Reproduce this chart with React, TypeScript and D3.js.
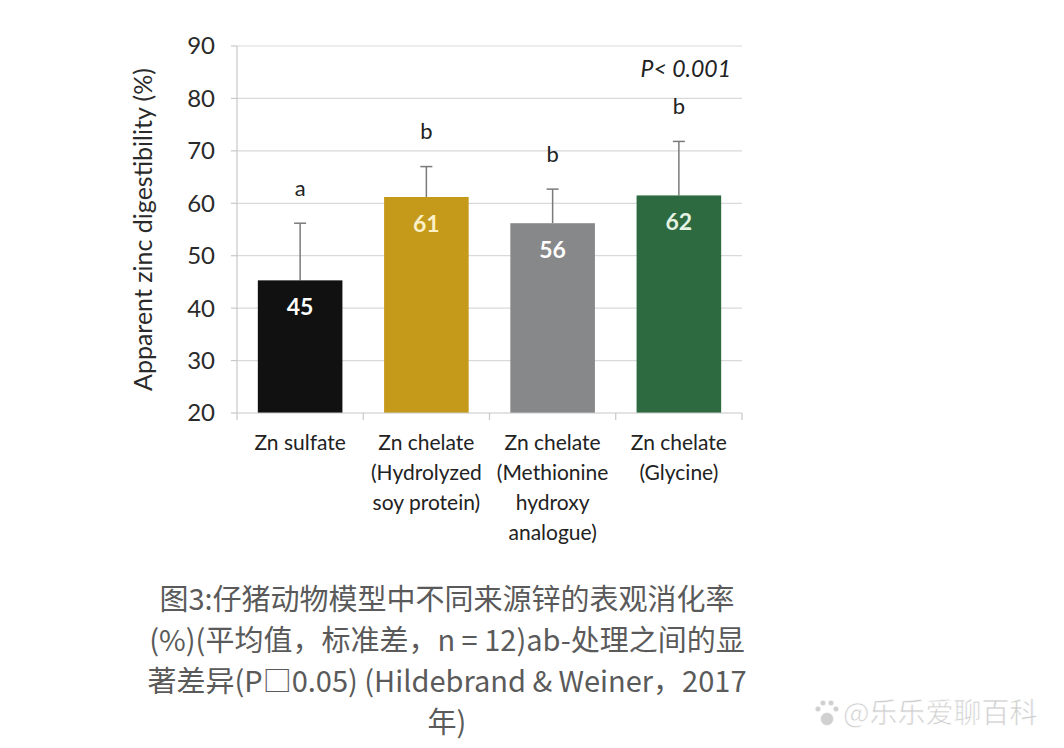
import { useMemo } from 'react';
import * as d3 from 'd3';

const categories = ['Zn sulfate', 'Zn chelate HSP', 'Zn chelate MHA', 'Zn chelate Gly'];
const categoryLines = [
  ['Zn sulfate'],
  ['Zn chelate', '(Hydrolyzed', 'soy protein)'],
  ['Zn chelate', '(Methionine', 'hydroxy', 'analogue)'],
  ['Zn chelate', '(Glycine)'],
];
const means = [45.3, 61.2, 56.2, 61.5];
const meanLabels = ['45', '61', '56', '62'];
const errorTops = [56.2, 67.0, 62.7, 71.8];
const letters = ['a', 'b', 'b', 'b'];
const barColors = ['#111111', '#c59a1b', '#87888a', '#2d6a3f'];
const labelColors = ['#ffffff', '#fbf0c8', '#ffffff', '#e3f2e3'];
const yTicks = [20, 30, 40, 50, 60, 70, 80, 90];

const captionLines = [
  '图3:仔猪动物模型中不同来源锌的表观消化率',
  '(%)(平均值，标准差，n = 12)ab-处理之间的显',
  '著差异(P□0.05) (Hildebrand & Weiner，2017',
  '年)',
];

const W = 1064;
const H = 748;
const margin = { left: 237, right: 322, top: 46, bottom: 335 };
const chartFont = 'Lato, "Open Sans", sans-serif';

export default function App() {
  const innerW = W - margin.left - margin.right;
  const plotBottom = H - margin.bottom;

  const x = useMemo(
    () => d3.scaleBand<string>().domain(categories).range([margin.left, margin.left + innerW]).paddingInner(0.33).paddingOuter(0.165),
    [innerW]
  );
  const y = useMemo(() => d3.scaleLinear().domain([20, 90]).range([plotBottom, margin.top]), [plotBottom]);

  const step = innerW / categories.length;
  const tickXs = d3.range(categories.length + 1).map(i => margin.left + i * step);

  return (
    <svg width={W} height={H} style={{ position: 'absolute', left: 0, top: 0, background: '#fff' }}>
      {/* grid */}
      {yTicks.slice(1).map(t => (
        <line key={t} x1={margin.left} x2={margin.left + innerW} y1={y(t)} y2={y(t)} stroke="#d9d9d9" strokeWidth={1.2} />
      ))}
      {/* y axis */}
      <line x1={margin.left} x2={margin.left} y1={y(90)} y2={y(20)} stroke="#c8c8c8" strokeWidth={1.2} />
      {yTicks.map(t => (
        <g key={t}>
          <line x1={margin.left - 6} x2={margin.left} y1={y(t)} y2={y(t)} stroke="#c8c8c8" strokeWidth={1.2} />
          <text x={margin.left - 22} y={y(t)} dy="0.35em" textAnchor="end" fontSize={24} fontFamily={chartFont} fill="#2a2a2a">
            {t}
          </text>
        </g>
      ))}
      <text
        transform={`translate(152,${(y(20) + y(90)) / 2}) rotate(-90)`}
        textAnchor="middle"
        fontSize={25}
        fontFamily={chartFont}
        fill="#2a2a2a"
      >
        Apparent zinc digestibility (%)
      </text>

      {/* bars */}
      {categories.map((c, i) => {
        const bx = x(c)!;
        const cx = bx + x.bandwidth() / 2;
        return (
          <g key={c}>
            <line x1={cx} x2={cx} y1={y(means[i])} y2={y(errorTops[i])} stroke="#7a7a7a" strokeWidth={1.5} />
            <line x1={cx - 6} x2={cx + 6} y1={y(errorTops[i])} y2={y(errorTops[i])} stroke="#7a7a7a" strokeWidth={1.5} />
            <rect x={bx} y={y(means[i])} width={x.bandwidth()} height={y(20) - y(means[i])} fill={barColors[i]} />
            <text x={cx} y={y(means[i]) + 27} dy="0.35em" textAnchor="middle" fontSize={23} fontWeight={700} fontFamily={chartFont} fill={labelColors[i]}>
              {meanLabels[i]}
            </text>
            <text x={cx} y={y(errorTops[i]) - 35} dy="0.35em" textAnchor="middle" fontSize={22} fontFamily={chartFont} fill="#222">
              {letters[i]}
            </text>
            {categoryLines[i].map((ln, j) => (
              <text key={j} x={cx} y={plotBottom + 30 + j * 30} dy="0.35em" textAnchor="middle" fontSize={21} fontFamily={chartFont} fill="#222">
                {ln}
              </text>
            ))}
          </g>
        );
      })}

      {/* x axis */}
      <line x1={margin.left} x2={margin.left + innerW} y1={plotBottom} y2={plotBottom} stroke="#c8c8c8" strokeWidth={1.2} />
      {tickXs.map((tx, i) => (
        <line key={i} x1={tx} x2={tx} y1={plotBottom} y2={plotBottom + 7} stroke="#c8c8c8" strokeWidth={1.2} />
      ))}

      <text x={731} y={69} dy="0.35em" textAnchor="end" fontSize={23} fontStyle="italic" fontFamily={chartFont} fill="#222">
        P&lt; 0.001
      </text>

      {/* caption */}
      {captionLines.map((ln, i) => (
        <text
          key={i}
          x={447}
          y={600 + i * 41}
          dy="0.35em"
          textAnchor="middle"
          fontSize={29}
          fontFamily='"Noto Sans CJK SC", "Noto Sans", sans-serif'
          fill="#5a5a5a"
        >
          {ln}
        </text>
      ))}

      {/* watermark */}
      <g fill="#d0d0d0" stroke="#ffffff" strokeWidth={0.5}>
        <circle cx={827} cy={719} r={6.5} />
        <circle cx={818} cy={709} r={2.8} />
        <circle cx={823} cy={703} r={2.8} />
        <circle cx={831} cy={703} r={2.8} />
        <circle cx={836} cy={709} r={2.8} />
      </g>
      <text x={843} y={713} dy="0.35em" fontSize={28} fontFamily='"Noto Sans CJK SC", sans-serif' fill="#cfcfcf" stroke="#ffffff" strokeWidth={0.6}>
        @乐乐爱聊百科
      </text>
    </svg>
  );
}
